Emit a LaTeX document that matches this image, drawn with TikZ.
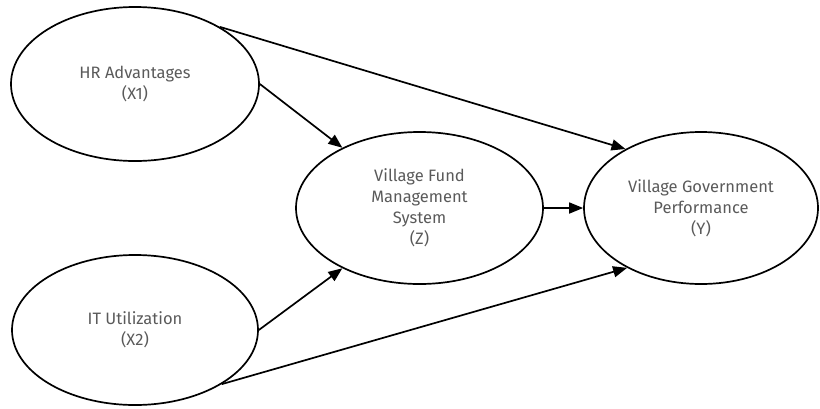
\documentclass[tikz,border=0pt]{standalone}
\usepackage{fontspec}
\setmainfont{Fira Sans}
\usetikzlibrary{shapes.geometric,arrows.meta}
\definecolor{txtgray}{HTML}{5A5A5A}
\tikzset{
  ell/.style={ellipse, draw=black, line width=1.7pt, inner sep=0pt, align=center,
    text=txtgray, font=\fontsize{16.5}{21}\selectfont},
  arr/.style={line width=1.7pt, -{Triangle[length=14pt,width=11pt]}}
}
\begin{document}
\begin{tikzpicture}[x=1pt,y=-1pt]
\useasboundingbox (0,0) rectangle (820,408);
\node[ell, minimum width=248, minimum height=154] (hr) at (135,84) {HR Advantages\\(X1)};
\node[ell, minimum width=246, minimum height=150] (it) at (135,330) {IT Utilization\\(X2)};
\node[ell, minimum width=247, minimum height=152] (z) at (419.5,208) {Village Fund\\Management\\System\\(Z)};
\node[ell, minimum width=234, minimum height=152] (y) at (701,208) {Village Government\\Performance\\(Y)};
\draw[arr] (hr.0) -- (z.142);
\draw[arr] (hr.34) -- (y.142);
\draw[arr] (it.0) -- (z.-142);
\draw[arr] (it.-32) -- (y.-141);
\draw[arr] (z.0) -- (y.180);
\end{tikzpicture}
\end{document}
